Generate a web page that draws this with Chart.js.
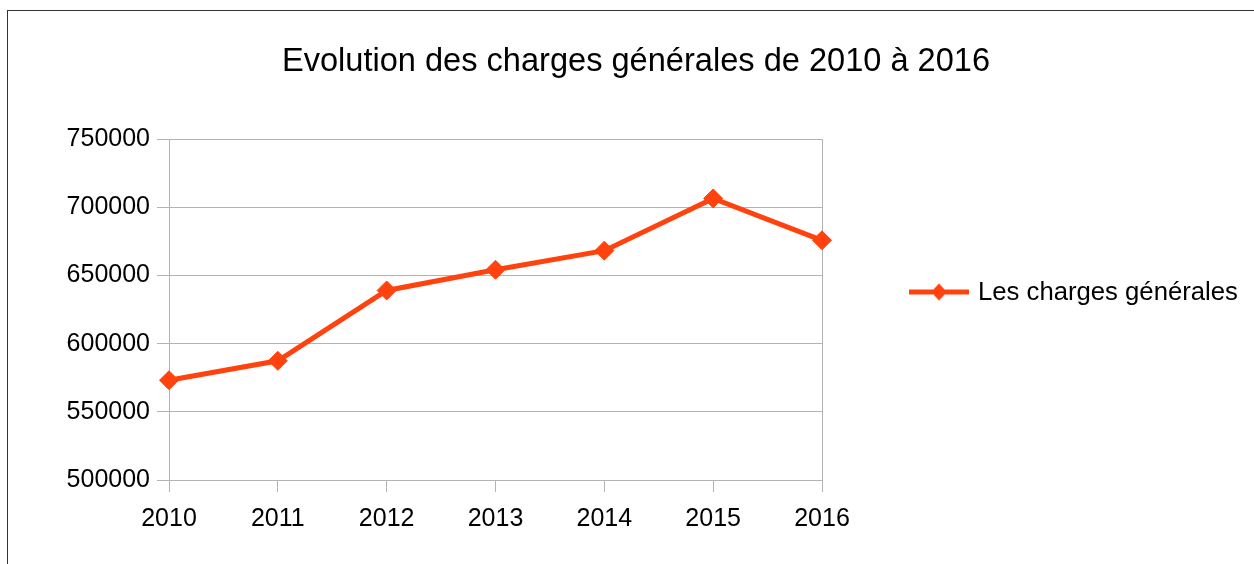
<!DOCTYPE html>
<html>
<head>
<meta charset="utf-8">
<script src="https://cdn.jsdelivr.net/npm/chart.js@4/dist/chart.umd.min.js"></script>
<style>
    body { margin: 0; background: #fff; }
    #frame { position: absolute; left: 7px; top: 10px; width: 1400px; height: 700px; border-left: 1px solid #333; border-top: 1px solid #333; }
    #myChart { position: absolute; left: 0; top: 0; }
</style>
</head>
<body>
<div id="frame"></div>
<canvas id="myChart" width="1254" height="564"></canvas>
<script>
const years = ['2010', '2011', '2012', '2013', '2014', '2015', '2016'];
const charges = [573200, 587400, 639000, 654200, 668200, 706500, 675800];
const yTicks = [500000, 550000, 600000, 650000, 700000, 750000];

const lineColor = '#FF420E';
const gridColor = '#b3b3b3';
const fontFamily = '"Liberation Sans", Arial, sans-serif';

// legend symbol: short line with a diamond in the middle
const legendIcon = document.createElement('canvas');
legendIcon.width = 60;
legendIcon.height = 20;
(() => {
    const c = legendIcon.getContext('2d');
    c.fillStyle = lineColor;
    c.fillRect(0, 8, 60, 5);
    c.beginPath();
    c.moveTo(30, 2);
    c.lineTo(38, 10.5);
    c.lineTo(30, 19);
    c.lineTo(22, 10.5);
    c.closePath();
    c.fill();
})();

// legend sits in the space kept free by the empty right axis
const sideLegend = {
    id: 'sideLegend',
    afterDraw(chart) {
        const c = chart.ctx;
        const x = chart.chartArea.right + 87;
        const y = 292;
        c.save();
        c.drawImage(legendIcon, x, y - 10.5);
        c.font = '25.7px ' + fontFamily;
        c.fillStyle = '#000';
        c.textBaseline = 'middle';
        c.fillText(chart.data.datasets[0].label, x + 69, y + 1);
        c.restore();
    }
};

Chart.defaults.font.family = fontFamily;
Chart.defaults.color = '#000';

const ctx = document.getElementById('myChart');
const chart = new Chart(ctx, {
    type: 'line',
    data: {
        labels: years,
        datasets: [{
            label: 'Les charges générales',
            data: charges,
            borderColor: lineColor,
            backgroundColor: lineColor,
            borderWidth: 5,
            pointStyle: 'rectRot',
            pointRadius: 9.5,
            pointBorderWidth: 1,
            tension: 0
        }]
    },
    options: {
        responsive: false,
        animation: false,
        layout: { padding: { left: 18, right: 0, top: 0, bottom: 18 } },
        plugins: {
            title: {
                display: true,
                text: 'Evolution des charges générales de 2010 à 2016',
                font: { size: 32.6, weight: 'normal' },
                color: '#000',
                padding: { top: 42, bottom: 58 }
            },
            legend: { display: false },
            tooltip: { enabled: false }
        },
        scales: {
            x: {
                offset: false,
                grid: {
                    color: (c) => (c.index === 0 || c.index === years.length - 1) ? gridColor : 'transparent',
                    tickColor: gridColor,
                    tickLength: 12
                },
                border: { color: gridColor },
                ticks: { font: { size: 25 }, padding: 12, maxRotation: 0 }
            },
            y: {
                min: yTicks[0],
                max: yTicks[yTicks.length - 1],
                afterBuildTicks: (scale) => { scale.ticks = yTicks.map(v => ({ value: v })); },
                afterFit: (scale) => { scale.width = 151; },
                grid: { color: gridColor, tickLength: 12 },
                border: { color: gridColor },
                ticks: { font: { size: 25 }, padding: 7, callback: (v) => String(v) }
            },
            legendSpace: {
                type: 'linear',
                position: 'right',
                afterFit: (scale) => { scale.width = 432; },
                grid: { display: false, drawTicks: false },
                border: { display: true, color: gridColor },
                ticks: { display: false }
            }
        }
    },
    plugins: [sideLegend]
});
</script>
</body>
</html>
